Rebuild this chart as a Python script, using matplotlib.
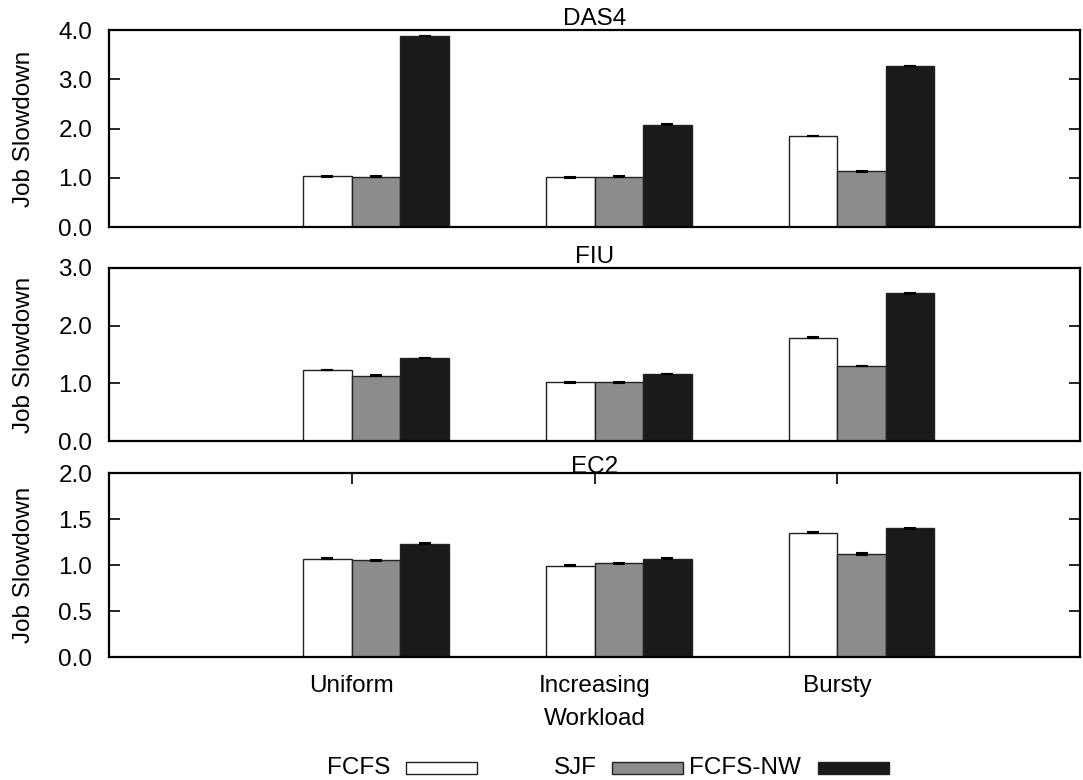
import matplotlib
matplotlib.use("Agg")
import matplotlib.pyplot as plt
from matplotlib.patches import Rectangle
import numpy as np

plt.rcParams['font.family'] = ['Liberation Sans', 'DejaVu Sans']
FS = 17.5
plt.rcParams['font.size'] = FS

workloads = ["Uniform", "Increasing", "Bursty"]
policies = ["FCFS", "SJF", "FCFS-NW"]
colors = ["#ffffff", "#8c8c8c", "#1a1a1a"]

panel_titles = ["DAS4", "FIU", "EC2"]
das4_fcfs = [1.03, 1.01, 1.85]
das4_sjf = [1.02, 1.02, 1.13]
das4_nw = [3.88, 2.08, 3.27]
fiu_fcfs = [1.23, 1.02, 1.79]
fiu_sjf = [1.13, 1.02, 1.30]
fiu_nw = [1.44, 1.16, 2.56]
ec2_fcfs = [1.07, 0.99, 1.35]
ec2_sjf = [1.05, 1.02, 1.12]
ec2_nw = [1.23, 1.07, 1.40]
err = [0.006, 0.006, 0.006]

panels = [
    (das4_fcfs, das4_sjf, das4_nw),
    (fiu_fcfs, fiu_sjf, fiu_nw),
    (ec2_fcfs, ec2_sjf, ec2_nw),
]
yticks = [np.arange(0, 4.01, 1.0), np.arange(0, 3.01, 1.0), np.arange(0, 2.01, 0.5)]

W, H = 1083, 780
fig = plt.figure(figsize=(W / 100, H / 100), dpi=100)

def fbox(left, top, right, bottom):
    return [left / W, 1 - bottom / H, (right - left) / W, (bottom - top) / H]

rects = [fbox(109, 30, 1080, 227), fbox(109, 268, 1080, 441), fbox(109, 473, 1080, 657)]

x = np.arange(len(workloads))
bw = 0.2
offsets = [-0.1, 0.1, 0.3]

for i, (series, rect) in enumerate(zip(panels, rects)):
    ax = fig.add_axes(rect)
    for j, vals in enumerate(series):
        ax.bar(x + offsets[j], vals, width=bw, color=colors[j], edgecolor="#222222",
               linewidth=1.0, zorder=2)
        ax.errorbar(x + offsets[j], vals, yerr=err, fmt="none", ecolor="black",
                    elinewidth=1, capsize=4, capthick=1.5, zorder=3)
    ax.set_xlim(-1, 3)
    ax.set_ylim(yticks[i][0], yticks[i][-1])
    ax.set_yticks(yticks[i])
    ax.set_yticklabels([f"{v:.1f}" for v in yticks[i]])
    ax.tick_params(axis="y", direction="in", length=8, width=1.2, right=True, pad=12)
    ax.set_ylabel("Job Slowdown")
    ax.yaxis.set_label_coords(-0.076, 0.5)
    for s in ax.spines.values():
        s.set_linewidth(1.6)
    ax.set_title(panel_titles[i], pad=0, fontsize=FS)
    if i < 2:
        ax.set_xticks([])
    else:
        ax.set_xticks(x)
        ax.set_xticklabels(workloads)
        ax.tick_params(axis="x", direction="in", length=8, width=1.2, bottom=False,
                       top=True, pad=13)
        ax.set_xlabel("Workload", labelpad=8)

# legend (gnuplot-style: text then box)
def px(xp, yp):
    return xp / W, 1 - yp / H

legend_items = [(390, 406, 477), (597, 612, 683), (801, 818, 889)]
ly = 768
for (tr, b0, b1), name, col in zip(legend_items, policies, colors):
    tx, ty = px(tr, ly)
    fig.text(tx, ty, name, ha="right", va="center", fontsize=FS)
    bx, by = px(b0, ly + 6)
    fig.add_artist(Rectangle((bx, by), (b1 - b0) / W, 12 / H, transform=fig.transFigure,
                             facecolor=col, edgecolor="#222222", linewidth=1.0))

fig.savefig("out.png", dpi=100)
